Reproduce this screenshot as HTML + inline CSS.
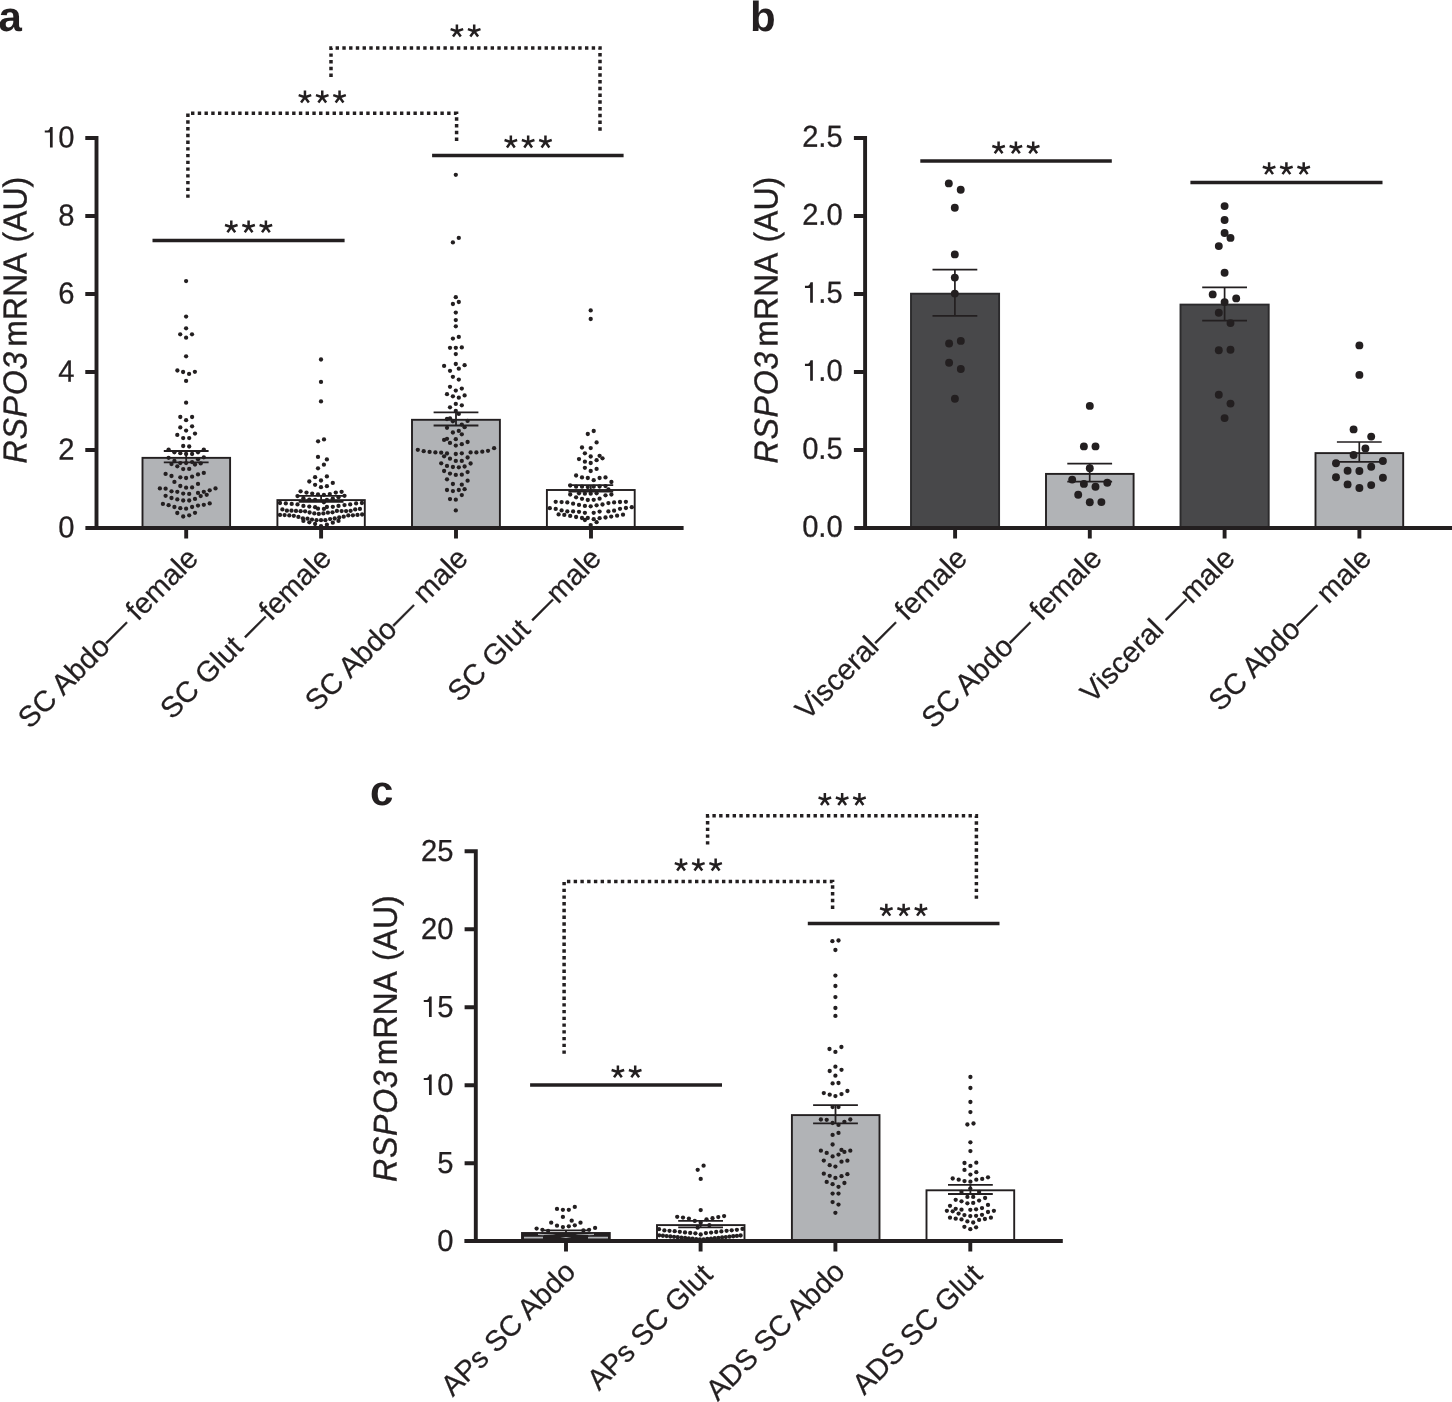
<!DOCTYPE html>
<html><head><meta charset="utf-8"><title>Figure</title>
<style>
html,body{margin:0;padding:0;background:#fff;}
body{width:1452px;height:1402px;overflow:hidden;}
svg{display:block;will-change:transform;}
text{font-family:"Liberation Sans",sans-serif;fill:#231f20;}
</style></head><body>
<svg width="1452" height="1402" viewBox="0 0 1452 1402">
<text transform="translate(-1.6 31) rotate(0.04)" font-size="42" font-weight="bold">a</text>
<rect x="142.5" y="457.85" width="87.6" height="70.15" fill="#b1b3b6" stroke="#231f20" stroke-width="1.9"/>
<rect x="277.4" y="500.1" width="87.4" height="27.9" fill="#fff" stroke="#231f20" stroke-width="1.9"/>
<rect x="412" y="419.8" width="87.9" height="108.2" fill="#b1b3b6" stroke="#231f20" stroke-width="1.9"/>
<rect x="546.9" y="490" width="87.8" height="38" fill="#fff" stroke="#231f20" stroke-width="1.9"/>
<path d="M96.5 136.05V529.95M85.4 528H683.6M85.3 138H96.5M85.3 216H96.5M85.3 294H96.5M85.3 372H96.5M85.3 450H96.5M186.2 528V538.6M321.1 528V538.6M456 528V538.6M591 528V538.6" fill="none" stroke="#231f20" stroke-width="3.9"/>
<path d="M52.67 147.4V126.9H50.32C49.77 128.8 48.77 130.5 47.47 130.5H44.77V132.6H49.97V147.4Z" fill="#231f20"/>
<text transform="translate(74.4 147.5) rotate(0.05) scale(0.96 1)" font-size="30.4" text-anchor="end" stroke="#231f20" stroke-width="0.3">0</text>
<text transform="translate(74.4 225.5) rotate(0.05) scale(0.96 1)" font-size="30.4" text-anchor="end" stroke="#231f20" stroke-width="0.3">8</text>
<text transform="translate(74.4 303.5) rotate(0.05) scale(0.96 1)" font-size="30.4" text-anchor="end" stroke="#231f20" stroke-width="0.3">6</text>
<text transform="translate(74.4 381.5) rotate(0.05) scale(0.96 1)" font-size="30.4" text-anchor="end" stroke="#231f20" stroke-width="0.3">4</text>
<text transform="translate(74.4 459.5) rotate(0.05) scale(0.96 1)" font-size="30.4" text-anchor="end" stroke="#231f20" stroke-width="0.3">2</text>
<text transform="translate(74.4 537.5) rotate(0.05) scale(0.96 1)" font-size="30.4" text-anchor="end" stroke="#231f20" stroke-width="0.3">0</text>
<text transform="translate(26.6 176.8) rotate(-89.96) scale(0.962 1)" font-size="33.3" text-anchor="end" stroke="#231f20" stroke-width="0.35"><tspan font-style="italic" letter-spacing="0.8">RSPO3</tspan><tspan dx="-4.8"> mRNA</tspan><tspan dx="1.1"> (AU)</tspan></text>
<path d="M163.8 451H208.6M163.8 462.3H208.6M186.2 451V462.3" fill="none" stroke="#231f20" stroke-width="1.8"/>
<path d="M298.7 495.9H343.5M298.7 501.8H343.5M321.1 495.9V501.8" fill="none" stroke="#231f20" stroke-width="1.8"/>
<path d="M433.6 412.3H478.4M433.6 425.5H478.4M456 412.3V425.5" fill="none" stroke="#231f20" stroke-width="1.8"/>
<path d="M568.4 485.1H613.2M568.4 491.5H613.2M590.8 485.1V491.5" fill="none" stroke="#231f20" stroke-width="1.8"/>
<g fill="#231f20"><circle cx="186.1" cy="281.1" r="2.15"/><circle cx="186.1" cy="316.6" r="2.15"/><circle cx="186.1" cy="328.3" r="2.15"/><circle cx="180.2" cy="334.3" r="2.15"/><circle cx="192" cy="334.3" r="2.15"/><circle cx="186.1" cy="337.7" r="2.15"/><circle cx="186.1" cy="356.3" r="2.15"/><circle cx="177.4" cy="370.5" r="2.15"/><circle cx="183.1" cy="372" r="2.15"/><circle cx="189.1" cy="373.9" r="2.15"/><circle cx="194.9" cy="371.8" r="2.15"/><circle cx="186.1" cy="380.9" r="2.15"/><circle cx="186.1" cy="402.7" r="2.15"/><circle cx="180.3" cy="417" r="2.15"/><circle cx="192.1" cy="417" r="2.15"/><circle cx="186.1" cy="420.2" r="2.15"/><circle cx="180.3" cy="427.4" r="2.15"/><circle cx="192.1" cy="426.3" r="2.15"/><circle cx="186.1" cy="430.6" r="2.15"/><circle cx="177.3" cy="434.9" r="2.15"/><circle cx="195" cy="433.6" r="2.15"/><circle cx="183.2" cy="438.1" r="2.15"/><circle cx="189.2" cy="438.1" r="2.15"/><circle cx="183.2" cy="446" r="2.15"/><circle cx="189.2" cy="446.5" r="2.15"/><circle cx="168.6" cy="449.6" r="2.15"/><circle cx="203.8" cy="449.6" r="2.15"/><circle cx="174.4" cy="452.3" r="2.15"/><circle cx="180.3" cy="453.2" r="2.15"/><circle cx="186.1" cy="454" r="2.15"/><circle cx="192.1" cy="454" r="2.15"/><circle cx="198" cy="452.3" r="2.15"/><circle cx="168.6" cy="457.8" r="2.15"/><circle cx="203.8" cy="457.3" r="2.15"/><circle cx="171.5" cy="464.1" r="2.15"/><circle cx="174.4" cy="461" r="2.15"/><circle cx="177.3" cy="466.3" r="2.15"/><circle cx="180.3" cy="463.1" r="2.15"/><circle cx="186.1" cy="463.1" r="2.15"/><circle cx="192.1" cy="462.1" r="2.15"/><circle cx="195" cy="464.5" r="2.15"/><circle cx="198" cy="459.3" r="2.15"/><circle cx="200.7" cy="463.4" r="2.15"/><circle cx="183.2" cy="469.1" r="2.15"/><circle cx="189.2" cy="468.9" r="2.15"/><circle cx="165.6" cy="473.9" r="2.15"/><circle cx="171.5" cy="476" r="2.15"/><circle cx="180.3" cy="477.3" r="2.15"/><circle cx="186.1" cy="478" r="2.15"/><circle cx="192.1" cy="476.7" r="2.15"/><circle cx="198" cy="474.4" r="2.15"/><circle cx="203.8" cy="472.9" r="2.15"/><circle cx="174.4" cy="481.9" r="2.15"/><circle cx="198" cy="483.9" r="2.15"/><circle cx="180.3" cy="486" r="2.15"/><circle cx="186.1" cy="487.7" r="2.15"/><circle cx="192.1" cy="487.4" r="2.15"/><circle cx="159.9" cy="488.4" r="2.15"/><circle cx="165.6" cy="488.7" r="2.15"/><circle cx="171.5" cy="491.3" r="2.15"/><circle cx="177.3" cy="491.8" r="2.15"/><circle cx="183.2" cy="493.6" r="2.15"/><circle cx="189.2" cy="493.9" r="2.15"/><circle cx="198" cy="492.9" r="2.15"/><circle cx="203.8" cy="491.8" r="2.15"/><circle cx="209.7" cy="490.3" r="2.15"/><circle cx="215.5" cy="488.4" r="2.15"/><circle cx="206.7" cy="494.8" r="2.15"/><circle cx="200.7" cy="496.1" r="2.15"/><circle cx="165.6" cy="495.8" r="2.15"/><circle cx="171.5" cy="498" r="2.15"/><circle cx="177.3" cy="499.4" r="2.15"/><circle cx="183.2" cy="500.5" r="2.15"/><circle cx="189.2" cy="500.5" r="2.15"/><circle cx="195" cy="498.9" r="2.15"/><circle cx="162.9" cy="503.9" r="2.15"/><circle cx="168.6" cy="505.2" r="2.15"/><circle cx="174.4" cy="507" r="2.15"/><circle cx="180.3" cy="508.2" r="2.15"/><circle cx="186.1" cy="508.7" r="2.15"/><circle cx="192.1" cy="507" r="2.15"/><circle cx="198" cy="505.6" r="2.15"/><circle cx="203.8" cy="504.8" r="2.15"/><circle cx="209.7" cy="503.4" r="2.15"/><circle cx="177.3" cy="513" r="2.15"/><circle cx="183.2" cy="516.5" r="2.15"/><circle cx="189.2" cy="515.3" r="2.15"/><circle cx="195" cy="512.8" r="2.15"/></g>
<g fill="#231f20"><circle cx="321" cy="359.5" r="2.15"/><circle cx="321" cy="381.9" r="2.15"/><circle cx="321" cy="401.4" r="2.15"/><circle cx="318.1" cy="441.3" r="2.15"/><circle cx="324" cy="439.4" r="2.15"/><circle cx="318" cy="456.9" r="2.15"/><circle cx="326.9" cy="459.4" r="2.15"/><circle cx="323.9" cy="464.7" r="2.15"/><circle cx="318" cy="468.3" r="2.15"/><circle cx="315.1" cy="477.2" r="2.15"/><circle cx="326.9" cy="476.4" r="2.15"/><circle cx="321" cy="480.5" r="2.15"/><circle cx="309.3" cy="481.5" r="2.15"/><circle cx="332.8" cy="482.9" r="2.15"/><circle cx="315.1" cy="484.8" r="2.15"/><circle cx="326.9" cy="486.2" r="2.15"/><circle cx="321" cy="487.2" r="2.15"/><circle cx="300.6" cy="491.3" r="2.15"/><circle cx="306.5" cy="492.6" r="2.15"/><circle cx="312.2" cy="493.6" r="2.15"/><circle cx="318" cy="494.4" r="2.15"/><circle cx="323.9" cy="494.8" r="2.15"/><circle cx="329.8" cy="494.1" r="2.15"/><circle cx="335.8" cy="492.6" r="2.15"/><circle cx="341.6" cy="491.8" r="2.15"/><circle cx="297.5" cy="496.1" r="2.15"/><circle cx="344.5" cy="495.8" r="2.15"/><circle cx="338.5" cy="497.2" r="2.15"/><circle cx="303.4" cy="498.2" r="2.15"/><circle cx="309.3" cy="499.6" r="2.15"/><circle cx="315.1" cy="499.9" r="2.15"/><circle cx="326.9" cy="499.9" r="2.15"/><circle cx="332.8" cy="498.6" r="2.15"/><circle cx="323.9" cy="502.3" r="2.15"/><circle cx="280" cy="503" r="2.15"/><circle cx="285.8" cy="503.4" r="2.15"/><circle cx="291.7" cy="503.9" r="2.15"/><circle cx="297.5" cy="504.4" r="2.15"/><circle cx="303.4" cy="505.9" r="2.15"/><circle cx="309.3" cy="506.6" r="2.15"/><circle cx="315.1" cy="507.2" r="2.15"/><circle cx="318" cy="508.7" r="2.15"/><circle cx="323.9" cy="508.9" r="2.15"/><circle cx="326.9" cy="507" r="2.15"/><circle cx="332.8" cy="506.8" r="2.15"/><circle cx="338.5" cy="505.9" r="2.15"/><circle cx="344.5" cy="505.1" r="2.15"/><circle cx="350.2" cy="504.4" r="2.15"/><circle cx="356.1" cy="503.4" r="2.15"/><circle cx="361.9" cy="503" r="2.15"/><circle cx="282.4" cy="509.4" r="2.15"/><circle cx="286.9" cy="510.7" r="2.15"/><circle cx="291.5" cy="510.7" r="2.15"/><circle cx="296" cy="510.9" r="2.15"/><circle cx="300.6" cy="511.2" r="2.15"/><circle cx="305.1" cy="511.3" r="2.15"/><circle cx="309.6" cy="512.5" r="2.15"/><circle cx="314.3" cy="513.4" r="2.15"/><circle cx="318.8" cy="513.9" r="2.15"/><circle cx="323.4" cy="513.4" r="2.15"/><circle cx="327.9" cy="512.7" r="2.15"/><circle cx="332.5" cy="512.3" r="2.15"/><circle cx="336.9" cy="510.9" r="2.15"/><circle cx="341.6" cy="511.1" r="2.15"/><circle cx="346.1" cy="511.1" r="2.15"/><circle cx="350.6" cy="510.8" r="2.15"/><circle cx="355.2" cy="509.4" r="2.15"/><circle cx="359.9" cy="508.9" r="2.15"/><circle cx="280" cy="514.9" r="2.15"/><circle cx="284.6" cy="515.1" r="2.15"/><circle cx="289.3" cy="515.4" r="2.15"/><circle cx="293.8" cy="515.8" r="2.15"/><circle cx="298.4" cy="516.9" r="2.15"/><circle cx="302.9" cy="518.3" r="2.15"/><circle cx="307.5" cy="518.7" r="2.15"/><circle cx="312" cy="519.6" r="2.15"/><circle cx="316.5" cy="520.2" r="2.15"/><circle cx="321" cy="520.2" r="2.15"/><circle cx="325.4" cy="520.2" r="2.15"/><circle cx="330.1" cy="519.1" r="2.15"/><circle cx="334.7" cy="518.5" r="2.15"/><circle cx="339.2" cy="517.5" r="2.15"/><circle cx="343.7" cy="516.7" r="2.15"/><circle cx="348.3" cy="515.4" r="2.15"/><circle cx="352.9" cy="515.3" r="2.15"/><circle cx="357.5" cy="514.9" r="2.15"/><circle cx="362.1" cy="514.5" r="2.15"/><circle cx="303.4" cy="520.9" r="2.15"/><circle cx="309.3" cy="522.3" r="2.15"/><circle cx="315.1" cy="524" r="2.15"/><circle cx="321" cy="526.1" r="2.15"/><circle cx="326.9" cy="524.7" r="2.15"/><circle cx="332.8" cy="522.7" r="2.15"/><circle cx="338.5" cy="520.9" r="2.15"/></g>
<g fill="#231f20"><circle cx="455.8" cy="174.8" r="2.15"/><circle cx="458.8" cy="237.9" r="2.15"/><circle cx="452.9" cy="242.4" r="2.15"/><circle cx="455.8" cy="297.2" r="2.15"/><circle cx="458.8" cy="302" r="2.15"/><circle cx="452.9" cy="304" r="2.15"/><circle cx="455.8" cy="312.6" r="2.15"/><circle cx="455.8" cy="320.1" r="2.15"/><circle cx="455.8" cy="326.3" r="2.15"/><circle cx="458.8" cy="336.9" r="2.15"/><circle cx="452.9" cy="338.6" r="2.15"/><circle cx="450" cy="347.8" r="2.15"/><circle cx="455.8" cy="347.8" r="2.15"/><circle cx="461.8" cy="347.4" r="2.15"/><circle cx="455.8" cy="354.1" r="2.15"/><circle cx="455.8" cy="364" r="2.15"/><circle cx="444.1" cy="365.9" r="2.15"/><circle cx="464.6" cy="365.2" r="2.15"/><circle cx="458.8" cy="368.7" r="2.15"/><circle cx="450" cy="370.8" r="2.15"/><circle cx="452.9" cy="376.8" r="2.15"/><circle cx="458.8" cy="379.6" r="2.15"/><circle cx="450" cy="386.8" r="2.15"/><circle cx="461.8" cy="388.6" r="2.15"/><circle cx="455.8" cy="390.6" r="2.15"/><circle cx="447" cy="394.2" r="2.15"/><circle cx="464.6" cy="395.4" r="2.15"/><circle cx="452.9" cy="396.3" r="2.15"/><circle cx="458.8" cy="397.7" r="2.15"/><circle cx="455.8" cy="403.9" r="2.15"/><circle cx="461.8" cy="405.3" r="2.15"/><circle cx="450" cy="407.3" r="2.15"/><circle cx="455.8" cy="411" r="2.15"/><circle cx="458.8" cy="413.9" r="2.15"/><circle cx="447" cy="419" r="2.15"/><circle cx="450" cy="418.3" r="2.15"/><circle cx="452.9" cy="421.3" r="2.15"/><circle cx="467.6" cy="420.9" r="2.15"/><circle cx="461.8" cy="424.6" r="2.15"/><circle cx="464.6" cy="427.2" r="2.15"/><circle cx="447" cy="427.8" r="2.15"/><circle cx="458.8" cy="430.9" r="2.15"/><circle cx="452.9" cy="432.5" r="2.15"/><circle cx="461.8" cy="434.3" r="2.15"/><circle cx="444.1" cy="439.9" r="2.15"/><circle cx="447" cy="438.8" r="2.15"/><circle cx="455.8" cy="439.2" r="2.15"/><circle cx="467.6" cy="442" r="2.15"/><circle cx="450" cy="442.9" r="2.15"/><circle cx="461.8" cy="444.2" r="2.15"/><circle cx="455.8" cy="445.6" r="2.15"/><circle cx="417.8" cy="449.8" r="2.15"/><circle cx="423.7" cy="451.2" r="2.15"/><circle cx="429.6" cy="451.9" r="2.15"/><circle cx="435.4" cy="452.4" r="2.15"/><circle cx="441.2" cy="452.7" r="2.15"/><circle cx="447" cy="453.5" r="2.15"/><circle cx="455.8" cy="454" r="2.15"/><circle cx="461.8" cy="453.3" r="2.15"/><circle cx="470.6" cy="452.4" r="2.15"/><circle cx="476.4" cy="452.4" r="2.15"/><circle cx="482.3" cy="451.7" r="2.15"/><circle cx="488" cy="450.8" r="2.15"/><circle cx="494.1" cy="448.2" r="2.15"/><circle cx="444.1" cy="456.3" r="2.15"/><circle cx="450" cy="458.7" r="2.15"/><circle cx="455.8" cy="460.9" r="2.15"/><circle cx="461.8" cy="460.9" r="2.15"/><circle cx="467.6" cy="457.5" r="2.15"/><circle cx="441.2" cy="463.3" r="2.15"/><circle cx="447" cy="465.9" r="2.15"/><circle cx="452.9" cy="467" r="2.15"/><circle cx="458.8" cy="467.3" r="2.15"/><circle cx="464.6" cy="466.5" r="2.15"/><circle cx="470.6" cy="463.5" r="2.15"/><circle cx="444.1" cy="471" r="2.15"/><circle cx="450" cy="473.6" r="2.15"/><circle cx="455.8" cy="474.9" r="2.15"/><circle cx="461.8" cy="474.7" r="2.15"/><circle cx="467.6" cy="472.1" r="2.15"/><circle cx="447" cy="479.3" r="2.15"/><circle cx="467.6" cy="480.7" r="2.15"/><circle cx="452.9" cy="484" r="2.15"/><circle cx="461.8" cy="484.7" r="2.15"/><circle cx="447" cy="490" r="2.15"/><circle cx="452.9" cy="491.1" r="2.15"/><circle cx="458.8" cy="490" r="2.15"/><circle cx="464.6" cy="489.2" r="2.15"/><circle cx="461.8" cy="495.1" r="2.15"/><circle cx="450" cy="499.1" r="2.15"/><circle cx="455.8" cy="499.7" r="2.15"/><circle cx="455.8" cy="510.4" r="2.15"/></g>
<g fill="#231f20"><circle cx="590.7" cy="310.4" r="2.15"/><circle cx="590.7" cy="319" r="2.15"/><circle cx="593.7" cy="431" r="2.15"/><circle cx="587.8" cy="434" r="2.15"/><circle cx="596.6" cy="442.4" r="2.15"/><circle cx="582" cy="447.5" r="2.15"/><circle cx="590.7" cy="448.1" r="2.15"/><circle cx="584.9" cy="453.3" r="2.15"/><circle cx="590.7" cy="456.5" r="2.15"/><circle cx="599.6" cy="455.8" r="2.15"/><circle cx="602.5" cy="458.3" r="2.15"/><circle cx="579" cy="459.1" r="2.15"/><circle cx="596.6" cy="460.2" r="2.15"/><circle cx="584.9" cy="461.7" r="2.15"/><circle cx="590.7" cy="463" r="2.15"/><circle cx="584.9" cy="467.8" r="2.15"/><circle cx="596.6" cy="468.9" r="2.15"/><circle cx="590.7" cy="471" r="2.15"/><circle cx="576.1" cy="475.5" r="2.15"/><circle cx="582" cy="477.4" r="2.15"/><circle cx="587.8" cy="478" r="2.15"/><circle cx="593.7" cy="480.2" r="2.15"/><circle cx="599.6" cy="478" r="2.15"/><circle cx="605.5" cy="477.4" r="2.15"/><circle cx="611.4" cy="482" r="2.15"/><circle cx="570.2" cy="485.5" r="2.15"/><circle cx="576.1" cy="486.7" r="2.15"/><circle cx="582" cy="486.7" r="2.15"/><circle cx="587.8" cy="487.1" r="2.15"/><circle cx="593.7" cy="486.7" r="2.15"/><circle cx="599.6" cy="486.5" r="2.15"/><circle cx="605.5" cy="486.1" r="2.15"/><circle cx="608.4" cy="489.4" r="2.15"/><circle cx="570.2" cy="494.5" r="2.15"/><circle cx="579" cy="493.3" r="2.15"/><circle cx="584.9" cy="493.7" r="2.15"/><circle cx="590.7" cy="493.7" r="2.15"/><circle cx="596.6" cy="493.3" r="2.15"/><circle cx="605.5" cy="495.3" r="2.15"/><circle cx="611.4" cy="494.5" r="2.15"/><circle cx="576.1" cy="497.3" r="2.15"/><circle cx="582" cy="498.8" r="2.15"/><circle cx="587.8" cy="500" r="2.15"/><circle cx="593.7" cy="499.8" r="2.15"/><circle cx="599.6" cy="498.7" r="2.15"/><circle cx="555.7" cy="501.8" r="2.15"/><circle cx="561.6" cy="502.1" r="2.15"/><circle cx="567.3" cy="502.4" r="2.15"/><circle cx="573.1" cy="503.7" r="2.15"/><circle cx="579" cy="504.9" r="2.15"/><circle cx="584.9" cy="505.9" r="2.15"/><circle cx="590.7" cy="506.3" r="2.15"/><circle cx="596.6" cy="505.3" r="2.15"/><circle cx="602.5" cy="504.5" r="2.15"/><circle cx="608.4" cy="503.1" r="2.15"/><circle cx="614.1" cy="502.4" r="2.15"/><circle cx="620" cy="502" r="2.15"/><circle cx="625.9" cy="501.8" r="2.15"/><circle cx="549.8" cy="508.2" r="2.15"/><circle cx="555.7" cy="508.9" r="2.15"/><circle cx="561.6" cy="510.4" r="2.15"/><circle cx="567.3" cy="511.4" r="2.15"/><circle cx="573.1" cy="511.4" r="2.15"/><circle cx="579" cy="511.8" r="2.15"/><circle cx="584.9" cy="512.8" r="2.15"/><circle cx="593.7" cy="512.8" r="2.15"/><circle cx="599.6" cy="511.6" r="2.15"/><circle cx="608.4" cy="511.4" r="2.15"/><circle cx="614.1" cy="510.7" r="2.15"/><circle cx="620" cy="508.8" r="2.15"/><circle cx="625.9" cy="508" r="2.15"/><circle cx="631.8" cy="507.2" r="2.15"/><circle cx="558.6" cy="514.4" r="2.15"/><circle cx="564.3" cy="514.9" r="2.15"/><circle cx="570.2" cy="515.9" r="2.15"/><circle cx="576.1" cy="517" r="2.15"/><circle cx="582" cy="518" r="2.15"/><circle cx="584.9" cy="520" r="2.15"/><circle cx="587.8" cy="518" r="2.15"/><circle cx="593.7" cy="519.2" r="2.15"/><circle cx="596.6" cy="522.2" r="2.15"/><circle cx="599.6" cy="518.2" r="2.15"/><circle cx="605.5" cy="517.5" r="2.15"/><circle cx="611.2" cy="516.6" r="2.15"/><circle cx="617.1" cy="515.7" r="2.15"/><circle cx="623" cy="514.7" r="2.15"/><circle cx="590.7" cy="525.1" r="2.15"/></g>
<line x1="152.5" y1="240.6" x2="344.6" y2="240.6" stroke="#231f20" stroke-width="3.5"/>
<path d="M231.3 227L231.3 220.4M231.3 227L237.58 224.96M231.3 227L235.18 232.34M231.3 227L227.42 232.34M231.3 227L225.02 224.96" stroke="#231f20" stroke-width="2.5" fill="none"/>
<path d="M248.6 227L248.6 220.4M248.6 227L254.88 224.96M248.6 227L252.48 232.34M248.6 227L244.72 232.34M248.6 227L242.32 224.96" stroke="#231f20" stroke-width="2.5" fill="none"/>
<path d="M265.9 227L265.9 220.4M265.9 227L272.18 224.96M265.9 227L269.78 232.34M265.9 227L262.02 232.34M265.9 227L259.62 224.96" stroke="#231f20" stroke-width="2.5" fill="none"/>
<line x1="432.1" y1="155.5" x2="623.6" y2="155.5" stroke="#231f20" stroke-width="3.5"/>
<path d="M510.85 142.1L510.85 135.5M510.85 142.1L517.13 140.06M510.85 142.1L514.73 147.44M510.85 142.1L506.97 147.44M510.85 142.1L504.57 140.06" stroke="#231f20" stroke-width="2.5" fill="none"/>
<path d="M528.15 142.1L528.15 135.5M528.15 142.1L534.43 140.06M528.15 142.1L532.03 147.44M528.15 142.1L524.27 147.44M528.15 142.1L521.87 140.06" stroke="#231f20" stroke-width="2.5" fill="none"/>
<path d="M545.45 142.1L545.45 135.5M545.45 142.1L551.73 140.06M545.45 142.1L549.33 147.44M545.45 142.1L541.57 147.44M545.45 142.1L539.17 140.06" stroke="#231f20" stroke-width="2.5" fill="none"/>
<path d="M187.9 197.8V113.3H456.6V142" fill="none" stroke="#231f20" stroke-width="3.5" stroke-dasharray="3.4 3.34"/>
<path d="M304.95 97.2L304.95 90.6M304.95 97.2L311.23 95.16M304.95 97.2L308.83 102.54M304.95 97.2L301.07 102.54M304.95 97.2L298.67 95.16" stroke="#231f20" stroke-width="2.5" fill="none"/>
<path d="M322.25 97.2L322.25 90.6M322.25 97.2L328.53 95.16M322.25 97.2L326.13 102.54M322.25 97.2L318.37 102.54M322.25 97.2L315.97 95.16" stroke="#231f20" stroke-width="2.5" fill="none"/>
<path d="M339.55 97.2L339.55 90.6M339.55 97.2L345.83 95.16M339.55 97.2L343.43 102.54M339.55 97.2L335.67 102.54M339.55 97.2L333.27 95.16" stroke="#231f20" stroke-width="2.5" fill="none"/>
<path d="M331 77V47.9H600V132.8" fill="none" stroke="#231f20" stroke-width="3.5" stroke-dasharray="3.4 3.34"/>
<path d="M456.9 31.2L456.9 24.6M456.9 31.2L463.18 29.16M456.9 31.2L460.78 36.54M456.9 31.2L453.02 36.54M456.9 31.2L450.62 29.16" stroke="#231f20" stroke-width="2.5" fill="none"/>
<path d="M474.2 31.2L474.2 24.6M474.2 31.2L480.48 29.16M474.2 31.2L478.08 36.54M474.2 31.2L470.32 36.54M474.2 31.2L467.92 29.16" stroke="#231f20" stroke-width="2.5" fill="none"/>
<text transform="translate(199.8 560) rotate(-45)" font-size="29.2" text-anchor="end" xml:space="preserve" stroke="#231f20" stroke-width="0.25">SC Abdo— female</text>
<text transform="translate(332.9 560) rotate(-45)" font-size="29.2" text-anchor="end" xml:space="preserve" stroke="#231f20" stroke-width="0.25">SC Glut —female</text>
<text transform="translate(469.6 560) rotate(-45)" font-size="29.2" text-anchor="end" xml:space="preserve" stroke="#231f20" stroke-width="0.25">SC Abdo— male</text>
<text transform="translate(602.8 560) rotate(-45)" font-size="29.2" text-anchor="end" xml:space="preserve" stroke="#231f20" stroke-width="0.25">SC Glut —male</text>
<text transform="translate(750 31) rotate(0.04)" font-size="42" font-weight="bold">b</text>
<rect x="911" y="293.7" width="88.1" height="234.3" fill="#48484a" stroke="#2b2a2c" stroke-width="1.9"/>
<rect x="1046" y="473.9" width="87.6" height="54.1" fill="#b1b3b6" stroke="#231f20" stroke-width="1.9"/>
<rect x="1180.5" y="304.6" width="88.2" height="223.4" fill="#48484a" stroke="#2b2a2c" stroke-width="1.9"/>
<rect x="1315.5" y="453.1" width="87.7" height="74.9" fill="#b1b3b6" stroke="#231f20" stroke-width="1.9"/>
<path d="M865.1 136.05V529.95M854.2 528H1453M853.9 138H865.1M853.9 216H865.1M853.9 294H865.1M853.9 372H865.1M853.9 450H865.1M955.1 528V538.6M1089.8 528V538.6M1224.6 528V538.6M1359.4 528V538.6" fill="none" stroke="#231f20" stroke-width="3.9"/>
<text transform="translate(842.7 146.8) rotate(0.05) scale(0.96 1)" font-size="30.4" text-anchor="end" stroke="#231f20" stroke-width="0.3">2.5</text>
<text transform="translate(842.7 224.8) rotate(0.05) scale(0.96 1)" font-size="30.4" text-anchor="end" stroke="#231f20" stroke-width="0.3">2.0</text>
<path d="M812.86 302.7V282.2H810.51C809.96 284.1 808.96 285.8 807.66 285.8H804.96V287.9H810.16V302.7Z" fill="#231f20"/>
<text transform="translate(842.7 302.8) rotate(0.05) scale(0.96 1)" font-size="30.4" text-anchor="end" stroke="#231f20" stroke-width="0.3">.5</text>
<path d="M812.86 380.7V360.2H810.51C809.96 362.1 808.96 363.8 807.66 363.8H804.96V365.9H810.16V380.7Z" fill="#231f20"/>
<text transform="translate(842.7 380.8) rotate(0.05) scale(0.96 1)" font-size="30.4" text-anchor="end" stroke="#231f20" stroke-width="0.3">.0</text>
<text transform="translate(842.7 458.8) rotate(0.05) scale(0.96 1)" font-size="30.4" text-anchor="end" stroke="#231f20" stroke-width="0.3">0.5</text>
<text transform="translate(842.7 536.8) rotate(0.05) scale(0.96 1)" font-size="30.4" text-anchor="end" stroke="#231f20" stroke-width="0.3">0.0</text>
<text transform="translate(777.6 176.8) rotate(-89.96) scale(0.962 1)" font-size="33.3" text-anchor="end" stroke="#231f20" stroke-width="0.35"><tspan font-style="italic" letter-spacing="0.8">RSPO3</tspan><tspan dx="-4.8"> mRNA</tspan><tspan dx="1.1"> (AU)</tspan></text>
<path d="M932.5 269.7H977.3M932.5 315.9H977.3M954.9 269.7V315.9" fill="none" stroke="#231f20" stroke-width="1.7"/>
<path d="M1067.3 463.7H1112.1M1067.3 481.6H1112.1M1089.7 463.7V481.6" fill="none" stroke="#231f20" stroke-width="1.7"/>
<path d="M1202.2 287.4H1247M1202.2 320.7H1247M1224.6 287.4V320.7" fill="none" stroke="#231f20" stroke-width="1.7"/>
<path d="M1336.9 442H1381.7M1336.9 461.8H1381.7M1359.3 442V461.8" fill="none" stroke="#231f20" stroke-width="1.7"/>
<g fill="#231f20"><circle cx="948.8" cy="183.4" r="3.95"/><circle cx="960.7" cy="189.7" r="3.95"/><circle cx="954.8" cy="207.8" r="3.95"/><circle cx="954.8" cy="254.4" r="3.95"/><circle cx="954.8" cy="277.6" r="3.95"/><circle cx="954.8" cy="293.6" r="3.95"/><circle cx="960.8" cy="340.9" r="3.95"/><circle cx="949.1" cy="343.5" r="3.95"/><circle cx="949.1" cy="362.8" r="3.95"/><circle cx="960.8" cy="369" r="3.95"/><circle cx="954.9" cy="398.8" r="3.95"/></g>
<g fill="#231f20"><circle cx="1089.8" cy="405.9" r="3.95"/><circle cx="1083.9" cy="446.4" r="3.95"/><circle cx="1095.5" cy="446.4" r="3.95"/><circle cx="1089.8" cy="468.2" r="3.95"/><circle cx="1072.2" cy="479.6" r="3.95"/><circle cx="1083.9" cy="483.9" r="3.95"/><circle cx="1095.5" cy="486.7" r="3.95"/><circle cx="1107.3" cy="482.7" r="3.95"/><circle cx="1078.2" cy="494.7" r="3.95"/><circle cx="1089.8" cy="502.3" r="3.95"/><circle cx="1101.4" cy="502.1" r="3.95"/></g>
<g fill="#231f20"><circle cx="1224.6" cy="206.1" r="3.95"/><circle cx="1224.6" cy="220" r="3.95"/><circle cx="1224.6" cy="233" r="3.95"/><circle cx="1230.5" cy="237.9" r="3.95"/><circle cx="1218.8" cy="246.1" r="3.95"/><circle cx="1224.6" cy="272.7" r="3.95"/><circle cx="1212.7" cy="294.4" r="3.95"/><circle cx="1236.2" cy="298.4" r="3.95"/><circle cx="1224.6" cy="302.1" r="3.95"/><circle cx="1218.8" cy="312.8" r="3.95"/><circle cx="1230.5" cy="323.1" r="3.95"/><circle cx="1218.8" cy="350.2" r="3.95"/><circle cx="1230.5" cy="349.8" r="3.95"/><circle cx="1218.8" cy="394.7" r="3.95"/><circle cx="1230.5" cy="403.6" r="3.95"/><circle cx="1224.6" cy="418.1" r="3.95"/></g>
<g fill="#231f20"><circle cx="1359.4" cy="345.4" r="3.95"/><circle cx="1359.4" cy="374.9" r="3.95"/><circle cx="1353.6" cy="429.4" r="3.95"/><circle cx="1371.2" cy="436.6" r="3.95"/><circle cx="1365.4" cy="448.4" r="3.95"/><circle cx="1353.6" cy="455" r="3.95"/><circle cx="1336" cy="463.2" r="3.95"/><circle cx="1382.9" cy="461" r="3.95"/><circle cx="1371.2" cy="466.8" r="3.95"/><circle cx="1347.6" cy="470.7" r="3.95"/><circle cx="1359.4" cy="471" r="3.95"/><circle cx="1336" cy="477.3" r="3.95"/><circle cx="1382.9" cy="477.8" r="3.95"/><circle cx="1347.6" cy="484.4" r="3.95"/><circle cx="1371.2" cy="485.1" r="3.95"/><circle cx="1359.4" cy="488" r="3.95"/></g>
<line x1="920.3" y1="161" x2="1111.8" y2="161" stroke="#231f20" stroke-width="3.5"/>
<path d="M998.6 148L998.6 141.4M998.6 148L1004.88 145.96M998.6 148L1002.48 153.34M998.6 148L994.72 153.34M998.6 148L992.32 145.96" stroke="#231f20" stroke-width="2.5" fill="none"/>
<path d="M1015.9 148L1015.9 141.4M1015.9 148L1022.18 145.96M1015.9 148L1019.78 153.34M1015.9 148L1012.02 153.34M1015.9 148L1009.62 145.96" stroke="#231f20" stroke-width="2.5" fill="none"/>
<path d="M1033.2 148L1033.2 141.4M1033.2 148L1039.48 145.96M1033.2 148L1037.08 153.34M1033.2 148L1029.32 153.34M1033.2 148L1026.92 145.96" stroke="#231f20" stroke-width="2.5" fill="none"/>
<line x1="1190.4" y1="182.6" x2="1382.5" y2="182.6" stroke="#231f20" stroke-width="3.5"/>
<path d="M1269.1 168.8L1269.1 162.2M1269.1 168.8L1275.38 166.76M1269.1 168.8L1272.98 174.14M1269.1 168.8L1265.22 174.14M1269.1 168.8L1262.82 166.76" stroke="#231f20" stroke-width="2.5" fill="none"/>
<path d="M1286.4 168.8L1286.4 162.2M1286.4 168.8L1292.68 166.76M1286.4 168.8L1290.28 174.14M1286.4 168.8L1282.52 174.14M1286.4 168.8L1280.12 166.76" stroke="#231f20" stroke-width="2.5" fill="none"/>
<path d="M1303.7 168.8L1303.7 162.2M1303.7 168.8L1309.98 166.76M1303.7 168.8L1307.58 174.14M1303.7 168.8L1299.82 174.14M1303.7 168.8L1297.42 166.76" stroke="#231f20" stroke-width="2.5" fill="none"/>
<text transform="translate(968.7 560) rotate(-45)" font-size="29.2" text-anchor="end" xml:space="preserve" stroke="#231f20" stroke-width="0.25">Visceral— female</text>
<text transform="translate(1103.4 560) rotate(-45)" font-size="29.2" text-anchor="end" xml:space="preserve" stroke="#231f20" stroke-width="0.25">SC Abdo— female</text>
<text transform="translate(1236.4 560) rotate(-45)" font-size="29.2" text-anchor="end" xml:space="preserve" stroke="#231f20" stroke-width="0.25">Visceral —male</text>
<text transform="translate(1373 560) rotate(-45)" font-size="29.2" text-anchor="end" xml:space="preserve" stroke="#231f20" stroke-width="0.25">SC Abdo— male</text>
<text transform="translate(370 805) rotate(0.04)" font-size="42" font-weight="bold">c</text>
<rect x="522" y="1233" width="87.8" height="8" fill="#231f20" stroke="#231f20" stroke-width="1.9"/>
<rect x="657" y="1225.1" width="87.5" height="15.9" fill="#fff" stroke="#231f20" stroke-width="1.9"/>
<rect x="791.9" y="1115.1" width="87.6" height="125.9" fill="#b1b3b6" stroke="#231f20" stroke-width="1.9"/>
<rect x="926.5" y="1190.3" width="87.7" height="50.7" fill="#fff" stroke="#231f20" stroke-width="1.9"/>
<path d="M524 1237.6H543M588 1237.6H608" stroke="#b1b3b6" stroke-width="1.6" fill="none"/>
<path d="M538 1234.4L553 1235.2L566 1237.3L578 1235.2L594 1234.4" stroke="#b1b3b6" stroke-width="1.2" fill="none"/>
<path d="M475.8 849.25V1242.95M464.4 1241H1062.8M464.6 851.2H475.8M464.6 929.2H475.8M464.6 1007.2H475.8M464.6 1085.2H475.8M464.6 1163.2H475.8M566 1241V1251.6M700.6 1241V1251.6M835.4 1241V1251.6M970.3 1241V1251.6" fill="none" stroke="#231f20" stroke-width="3.9"/>
<text transform="translate(453.4 861) rotate(0.05) scale(0.96 1)" font-size="30.4" text-anchor="end" stroke="#231f20" stroke-width="0.3">25</text>
<text transform="translate(453.4 939) rotate(0.05) scale(0.96 1)" font-size="30.4" text-anchor="end" stroke="#231f20" stroke-width="0.3">20</text>
<path d="M431.67 1016.9V996.4H429.32C428.77 998.3 427.77 1000 426.47 1000H423.77V1002.1H428.97V1016.9Z" fill="#231f20"/>
<text transform="translate(453.4 1017) rotate(0.05) scale(0.96 1)" font-size="30.4" text-anchor="end" stroke="#231f20" stroke-width="0.3">5</text>
<path d="M431.67 1094.9V1074.4H429.32C428.77 1076.3 427.77 1078 426.47 1078H423.77V1080.1H428.97V1094.9Z" fill="#231f20"/>
<text transform="translate(453.4 1095) rotate(0.05) scale(0.96 1)" font-size="30.4" text-anchor="end" stroke="#231f20" stroke-width="0.3">0</text>
<text transform="translate(453.4 1173) rotate(0.05) scale(0.96 1)" font-size="30.4" text-anchor="end" stroke="#231f20" stroke-width="0.3">5</text>
<text transform="translate(453.4 1251) rotate(0.05) scale(0.96 1)" font-size="30.4" text-anchor="end" stroke="#231f20" stroke-width="0.3">0</text>
<text transform="translate(396.8 895.3) rotate(-89.96) scale(0.962 1)" font-size="33.3" text-anchor="end" stroke="#231f20" stroke-width="0.35"><tspan font-style="italic" letter-spacing="0.8">RSPO3</tspan><tspan dx="-4.8"> mRNA</tspan><tspan dx="1.1"> (AU)</tspan></text>
<path d="M543.6 1230.4H588.4M543.6 1236H588.4M566 1230.4V1236" fill="none" stroke="#231f20" stroke-width="1.8"/>
<path d="M678.2 1220.8H723M678.2 1227.4H723M700.6 1220.8V1227.4" fill="none" stroke="#231f20" stroke-width="1.8"/>
<path d="M813.1 1105.1H857.9M813.1 1123.3H857.9M835.5 1105.1V1123.3" fill="none" stroke="#231f20" stroke-width="1.8"/>
<path d="M948 1184.8H992.8M948 1194H992.8M970.4 1184.8V1194" fill="none" stroke="#231f20" stroke-width="1.8"/>
<g fill="#231f20"><circle cx="557" cy="1208.9" r="2.15"/><circle cx="562.9" cy="1209.8" r="2.15"/><circle cx="568.8" cy="1209.8" r="2.15"/><circle cx="574.8" cy="1206.9" r="2.15"/><circle cx="562.9" cy="1216.9" r="2.15"/><circle cx="571.7" cy="1220.7" r="2.15"/><circle cx="551.2" cy="1222.7" r="2.15"/><circle cx="580.5" cy="1222.7" r="2.15"/><circle cx="557" cy="1225.7" r="2.15"/><circle cx="562.9" cy="1227.1" r="2.15"/><circle cx="568.8" cy="1226.3" r="2.15"/><circle cx="574.8" cy="1225.3" r="2.15"/><circle cx="536.6" cy="1228.6" r="2.15"/><circle cx="595.1" cy="1227.9" r="2.15"/><circle cx="542.4" cy="1229.8" r="2.15"/><circle cx="589.1" cy="1229.8" r="2.15"/><circle cx="548.1" cy="1230.8" r="2.15"/><circle cx="583.4" cy="1230.4" r="2.15"/></g>
<g fill="#231f20"><circle cx="703.6" cy="1165.7" r="2.15"/><circle cx="697.7" cy="1169.8" r="2.15"/><circle cx="700.7" cy="1178.9" r="2.15"/><circle cx="700.7" cy="1210.1" r="2.15"/><circle cx="677.2" cy="1216.8" r="2.15"/><circle cx="683" cy="1217.6" r="2.15"/><circle cx="688.9" cy="1218.6" r="2.15"/><circle cx="694.8" cy="1220.9" r="2.15"/><circle cx="706.5" cy="1219.3" r="2.15"/><circle cx="712.5" cy="1218.2" r="2.15"/><circle cx="718.3" cy="1217.1" r="2.15"/><circle cx="724.1" cy="1216.1" r="2.15"/><circle cx="700.7" cy="1222.7" r="2.15"/><circle cx="709.4" cy="1225.2" r="2.15"/><circle cx="697.7" cy="1227.7" r="2.15"/><circle cx="659" cy="1229.2" r="2.15"/><circle cx="664.4" cy="1230.4" r="2.15"/><circle cx="669.5" cy="1230.8" r="2.15"/><circle cx="674.7" cy="1231.2" r="2.15"/><circle cx="679.8" cy="1231.8" r="2.15"/><circle cx="685" cy="1232.4" r="2.15"/><circle cx="690.2" cy="1232.9" r="2.15"/><circle cx="695.4" cy="1233.3" r="2.15"/><circle cx="700.7" cy="1234.5" r="2.15"/><circle cx="705.9" cy="1233.1" r="2.15"/><circle cx="711.1" cy="1232.6" r="2.15"/><circle cx="716.2" cy="1232" r="2.15"/><circle cx="721.4" cy="1231.4" r="2.15"/><circle cx="726.6" cy="1230.8" r="2.15"/><circle cx="731.7" cy="1230.3" r="2.15"/><circle cx="736.9" cy="1229.8" r="2.15"/><circle cx="742.5" cy="1228.9" r="2.15"/><circle cx="659.2" cy="1235.35" r="2.15"/><circle cx="662.9" cy="1235.73" r="2.15"/><circle cx="666.6" cy="1236.11" r="2.15"/><circle cx="670.3" cy="1236.49" r="2.15"/><circle cx="674" cy="1236.87" r="2.15"/><circle cx="677.7" cy="1237.25" r="2.15"/><circle cx="681.4" cy="1237.62" r="2.15"/><circle cx="685.1" cy="1238" r="2.15"/><circle cx="688.8" cy="1238.38" r="2.15"/><circle cx="692.5" cy="1238.76" r="2.15"/><circle cx="696.2" cy="1239.14" r="2.15"/><circle cx="699.9" cy="1239.52" r="2.15"/><circle cx="703.6" cy="1239.3" r="2.15"/><circle cx="707.3" cy="1238.92" r="2.15"/><circle cx="711" cy="1238.55" r="2.15"/><circle cx="714.7" cy="1238.17" r="2.15"/><circle cx="718.4" cy="1237.79" r="2.15"/><circle cx="722.1" cy="1237.41" r="2.15"/><circle cx="725.8" cy="1237.03" r="2.15"/><circle cx="729.5" cy="1236.65" r="2.15"/><circle cx="733.2" cy="1236.27" r="2.15"/><circle cx="736.9" cy="1235.89" r="2.15"/><circle cx="740.6" cy="1235.51" r="2.15"/></g>
<g fill="#231f20"><circle cx="832.4" cy="941.2" r="2.15"/><circle cx="838.5" cy="940.5" r="2.15"/><circle cx="835.4" cy="950" r="2.15"/><circle cx="835.4" cy="975.6" r="2.15"/><circle cx="835.4" cy="986" r="2.15"/><circle cx="835.4" cy="997.1" r="2.15"/><circle cx="835.4" cy="1008" r="2.15"/><circle cx="835.4" cy="1015.9" r="2.15"/><circle cx="829.5" cy="1049" r="2.15"/><circle cx="835.4" cy="1051.9" r="2.15"/><circle cx="841.4" cy="1047" r="2.15"/><circle cx="835.4" cy="1066.7" r="2.15"/><circle cx="829.7" cy="1071" r="2.15"/><circle cx="841.5" cy="1069.8" r="2.15"/><circle cx="835.4" cy="1075.7" r="2.15"/><circle cx="832.6" cy="1083.4" r="2.15"/><circle cx="838.5" cy="1083" r="2.15"/><circle cx="823.8" cy="1093.1" r="2.15"/><circle cx="829.7" cy="1094.7" r="2.15"/><circle cx="835.4" cy="1096.1" r="2.15"/><circle cx="841.5" cy="1094.1" r="2.15"/><circle cx="847.4" cy="1091" r="2.15"/><circle cx="832.6" cy="1107.1" r="2.15"/><circle cx="838.5" cy="1107.1" r="2.15"/><circle cx="820.9" cy="1119.5" r="2.15"/><circle cx="826.7" cy="1119.8" r="2.15"/><circle cx="850.3" cy="1119.5" r="2.15"/><circle cx="844.4" cy="1121.8" r="2.15"/><circle cx="832.6" cy="1123" r="2.15"/><circle cx="838.5" cy="1124.9" r="2.15"/><circle cx="838.5" cy="1132.9" r="2.15"/><circle cx="832.6" cy="1134.9" r="2.15"/><circle cx="832.6" cy="1144.5" r="2.15"/><circle cx="820.9" cy="1150.7" r="2.15"/><circle cx="826.7" cy="1152.9" r="2.15"/><circle cx="832.6" cy="1156.4" r="2.15"/><circle cx="838.5" cy="1154.6" r="2.15"/><circle cx="841.5" cy="1149.9" r="2.15"/><circle cx="844.4" cy="1151.9" r="2.15"/><circle cx="850.3" cy="1150.7" r="2.15"/><circle cx="823.8" cy="1160.6" r="2.15"/><circle cx="829.7" cy="1165.2" r="2.15"/><circle cx="835.4" cy="1166.6" r="2.15"/><circle cx="841.5" cy="1161.7" r="2.15"/><circle cx="847.4" cy="1160.7" r="2.15"/><circle cx="823.8" cy="1173.7" r="2.15"/><circle cx="829.7" cy="1175.8" r="2.15"/><circle cx="835.4" cy="1177.9" r="2.15"/><circle cx="841.5" cy="1176.2" r="2.15"/><circle cx="847.4" cy="1174.2" r="2.15"/><circle cx="826.7" cy="1181.9" r="2.15"/><circle cx="832.6" cy="1184.2" r="2.15"/><circle cx="838.5" cy="1186.8" r="2.15"/><circle cx="844.4" cy="1183" r="2.15"/><circle cx="832.6" cy="1193.6" r="2.15"/><circle cx="838.5" cy="1193.6" r="2.15"/><circle cx="832.6" cy="1202.1" r="2.15"/><circle cx="838.5" cy="1204.6" r="2.15"/><circle cx="835.4" cy="1212.8" r="2.15"/></g>
<g fill="#231f20"><circle cx="970.4" cy="1077" r="2.15"/><circle cx="970.4" cy="1088" r="2.15"/><circle cx="970.4" cy="1102" r="2.15"/><circle cx="970.4" cy="1112.1" r="2.15"/><circle cx="967.4" cy="1124.5" r="2.15"/><circle cx="973.5" cy="1123.5" r="2.15"/><circle cx="970.4" cy="1142.3" r="2.15"/><circle cx="970.4" cy="1151.1" r="2.15"/><circle cx="964.5" cy="1163" r="2.15"/><circle cx="976.3" cy="1162.7" r="2.15"/><circle cx="970.4" cy="1165.9" r="2.15"/><circle cx="964.5" cy="1169.9" r="2.15"/><circle cx="976.3" cy="1172.2" r="2.15"/><circle cx="970.4" cy="1174.6" r="2.15"/><circle cx="952.7" cy="1178.5" r="2.15"/><circle cx="958.7" cy="1179.7" r="2.15"/><circle cx="964.5" cy="1181.1" r="2.15"/><circle cx="970.4" cy="1181.7" r="2.15"/><circle cx="976.3" cy="1179.7" r="2.15"/><circle cx="982.2" cy="1178.9" r="2.15"/><circle cx="988" cy="1177.3" r="2.15"/><circle cx="961.5" cy="1192" r="2.15"/><circle cx="979.1" cy="1192" r="2.15"/><circle cx="970.3" cy="1188.6" r="2.15"/><circle cx="967.4" cy="1196.9" r="2.15"/><circle cx="973.2" cy="1196.9" r="2.15"/><circle cx="985.1" cy="1198" r="2.15"/><circle cx="955.7" cy="1199.8" r="2.15"/><circle cx="961.5" cy="1201.3" r="2.15"/><circle cx="979.1" cy="1200.6" r="2.15"/><circle cx="967.4" cy="1203.3" r="2.15"/><circle cx="973.2" cy="1202.9" r="2.15"/><circle cx="950" cy="1205.8" r="2.15"/><circle cx="988" cy="1204.9" r="2.15"/><circle cx="955.7" cy="1208.8" r="2.15"/><circle cx="961.5" cy="1209.7" r="2.15"/><circle cx="970.3" cy="1209.8" r="2.15"/><circle cx="976.1" cy="1209.3" r="2.15"/><circle cx="982" cy="1208.1" r="2.15"/><circle cx="946.9" cy="1210.8" r="2.15"/><circle cx="952.7" cy="1211.3" r="2.15"/><circle cx="993.9" cy="1210.8" r="2.15"/><circle cx="988" cy="1212" r="2.15"/><circle cx="958.6" cy="1213.6" r="2.15"/><circle cx="964.4" cy="1215.1" r="2.15"/><circle cx="970.3" cy="1216.1" r="2.15"/><circle cx="976.1" cy="1215.8" r="2.15"/><circle cx="982" cy="1214.8" r="2.15"/><circle cx="950" cy="1217.7" r="2.15"/><circle cx="955.7" cy="1218.7" r="2.15"/><circle cx="961.5" cy="1219.4" r="2.15"/><circle cx="967.4" cy="1221.4" r="2.15"/><circle cx="973.2" cy="1222.5" r="2.15"/><circle cx="979.1" cy="1219.9" r="2.15"/><circle cx="984.9" cy="1219" r="2.15"/><circle cx="990.9" cy="1217.7" r="2.15"/><circle cx="964.4" cy="1226.8" r="2.15"/><circle cx="970.3" cy="1229.2" r="2.15"/><circle cx="976.1" cy="1227.3" r="2.15"/></g>
<line x1="530.1" y1="1084.9" x2="722" y2="1084.9" stroke="#231f20" stroke-width="3.5"/>
<path d="M617.9 1072L617.9 1065.4M617.9 1072L624.18 1069.96M617.9 1072L621.78 1077.34M617.9 1072L614.02 1077.34M617.9 1072L611.62 1069.96" stroke="#231f20" stroke-width="2.5" fill="none"/>
<path d="M635.2 1072L635.2 1065.4M635.2 1072L641.48 1069.96M635.2 1072L639.08 1077.34M635.2 1072L631.32 1077.34M635.2 1072L628.92 1069.96" stroke="#231f20" stroke-width="2.5" fill="none"/>
<line x1="807.8" y1="923.5" x2="999.5" y2="923.5" stroke="#231f20" stroke-width="3.5"/>
<path d="M886.35 910.3L886.35 903.7M886.35 910.3L892.63 908.26M886.35 910.3L890.23 915.64M886.35 910.3L882.47 915.64M886.35 910.3L880.07 908.26" stroke="#231f20" stroke-width="2.5" fill="none"/>
<path d="M903.65 910.3L903.65 903.7M903.65 910.3L909.93 908.26M903.65 910.3L907.53 915.64M903.65 910.3L899.77 915.64M903.65 910.3L897.37 908.26" stroke="#231f20" stroke-width="2.5" fill="none"/>
<path d="M920.95 910.3L920.95 903.7M920.95 910.3L927.23 908.26M920.95 910.3L924.83 915.64M920.95 910.3L917.07 915.64M920.95 910.3L914.67 908.26" stroke="#231f20" stroke-width="2.5" fill="none"/>
<path d="M564.1 1053.8V881.4H832.6V910" fill="none" stroke="#231f20" stroke-width="3.5" stroke-dasharray="3.4 3.34"/>
<path d="M681.05 865.2L681.05 858.6M681.05 865.2L687.33 863.16M681.05 865.2L684.93 870.54M681.05 865.2L677.17 870.54M681.05 865.2L674.77 863.16" stroke="#231f20" stroke-width="2.5" fill="none"/>
<path d="M698.35 865.2L698.35 858.6M698.35 865.2L704.63 863.16M698.35 865.2L702.23 870.54M698.35 865.2L694.47 870.54M698.35 865.2L692.07 863.16" stroke="#231f20" stroke-width="2.5" fill="none"/>
<path d="M715.65 865.2L715.65 858.6M715.65 865.2L721.93 863.16M715.65 865.2L719.53 870.54M715.65 865.2L711.77 870.54M715.65 865.2L709.37 863.16" stroke="#231f20" stroke-width="2.5" fill="none"/>
<path d="M707.6 844.6V815.7H976.4V900.8" fill="none" stroke="#231f20" stroke-width="3.5" stroke-dasharray="3.4 3.34"/>
<path d="M824.85 799.6L824.85 793M824.85 799.6L831.13 797.56M824.85 799.6L828.73 804.94M824.85 799.6L820.97 804.94M824.85 799.6L818.57 797.56" stroke="#231f20" stroke-width="2.5" fill="none"/>
<path d="M842.15 799.6L842.15 793M842.15 799.6L848.43 797.56M842.15 799.6L846.03 804.94M842.15 799.6L838.27 804.94M842.15 799.6L835.87 797.56" stroke="#231f20" stroke-width="2.5" fill="none"/>
<path d="M859.45 799.6L859.45 793M859.45 799.6L865.73 797.56M859.45 799.6L863.33 804.94M859.45 799.6L855.57 804.94M859.45 799.6L853.17 797.56" stroke="#231f20" stroke-width="2.5" fill="none"/>
<text transform="translate(577.1 1273.3) rotate(-45)" font-size="29.0" text-anchor="end" xml:space="preserve" stroke="#231f20" stroke-width="0.25">APs SC Abdo</text>
<text transform="translate(714.2 1276.4) rotate(-45)" font-size="29.0" text-anchor="end" xml:space="preserve" stroke="#231f20" stroke-width="0.25">APs SC Glut</text>
<text transform="translate(846.5 1273.3) rotate(-45)" font-size="29.0" text-anchor="end" xml:space="preserve" stroke="#231f20" stroke-width="0.25">ADS SC Abdo</text>
<text transform="translate(983.9 1276.4) rotate(-45)" font-size="29.0" text-anchor="end" xml:space="preserve" stroke="#231f20" stroke-width="0.25">ADS SC Glut</text>
</svg>
</body></html>
